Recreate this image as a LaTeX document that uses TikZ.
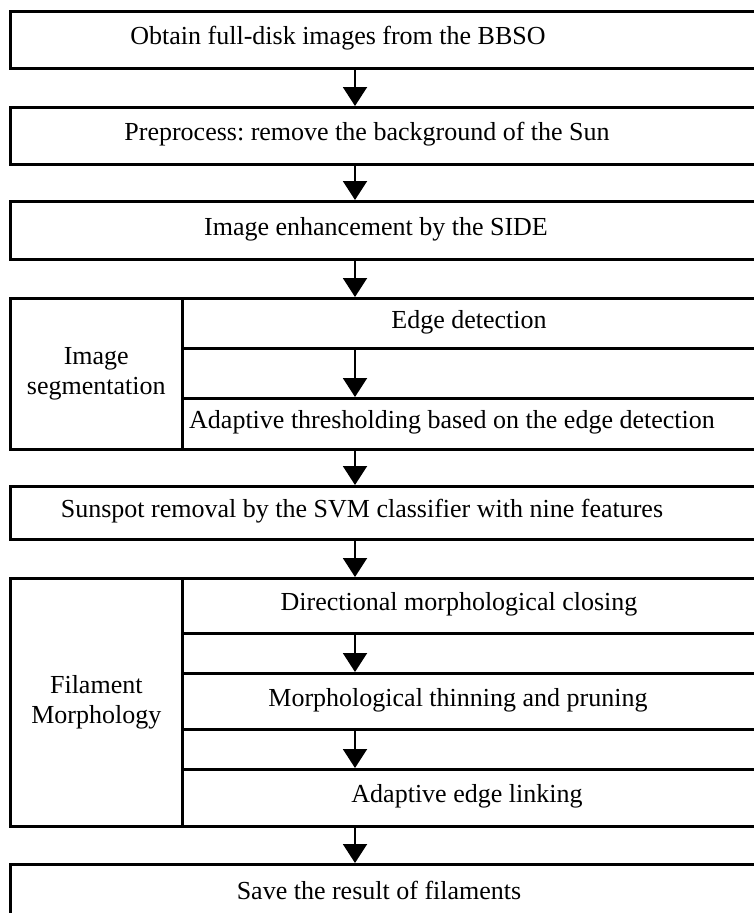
\documentclass[tikz,border=0pt]{standalone}
\usepackage{fontspec}
\setmainfont{Liberation Serif}
\usetikzlibrary{arrows.meta, positioning}
\frenchspacing

\begin{document}
\begin{tikzpicture}[x=1pt, y=-1pt,
  stage/.style={draw, line width=3pt, rectangle, anchor=north west, inner sep=0pt, minimum width=762pt},
  cell/.style={draw, line width=2.6pt, rectangle, anchor=north west, inner sep=0pt,
               font=\fontsize{26}{30}\selectfont, align=center},
  lbl/.style={font=\fontsize{26}{30}\selectfont, inner sep=0pt, text height=18pt, text depth=6pt},
  flow/.style={line width=2pt, -{Triangle[width=24pt,length=19pt]}}]
  \useasboundingbox (0,0) rectangle (754,913);
  \clip (0,0) rectangle (754,913);

  % === single stages ===
  \node[stage, minimum height=57pt] (obtain) at (9,10) {};
  \node[stage, minimum height=57pt] (prep) at (9,106) {};
  \node[stage, minimum height=58pt] (side) at (9,200) {};

  % === image segmentation block ===
  \node[stage, minimum height=151pt] (seg) at (9,297) {};
  \node[cell, minimum width=172pt, minimum height=151pt] (segHead) at (9,297) {Image\\segmentation};
  \node[cell, minimum width=589pt, minimum height=50pt] (edge) at (181,297) {};
  \node[cell, minimum width=589pt, minimum height=51pt] (thresh) at (181,397) {};

  \node[stage, minimum height=53pt] (svm) at (9,485) {};

  % === filament morphology block ===
  \node[stage, minimum height=248pt] (fil) at (9,577) {};
  \node[cell, minimum width=172pt, minimum height=248pt] (filHead) at (9,577) {Filament\\Morphology};
  \node[cell, minimum width=589pt, minimum height=55pt] (closing) at (181,577) {};
  \node[cell, minimum width=589pt, minimum height=56pt] (thinning) at (181,672) {};
  \node[cell, minimum width=589pt, minimum height=57pt] (linking) at (181,768) {};

  \node[stage, minimum height=90pt] (save) at (9,863) {};

  % labels
  \node[lbl] (tObtain) at (338,38.5) {Obtain full-disk images from the BBSO};
  \node[lbl] (tPrep) at (367,134.5) {Preprocess: remove the background of the Sun};
  \node[lbl] (tSide) at (376,229) {Image enhancement by the SIDE};
  \node[lbl] (tEdge) at (469,322) {Edge detection};
  \node[lbl] (tThresh) at (452,422.5) {Adaptive thresholding based on the edge detection};
  \node[lbl] (tSvm) at (362,511.5) {Sunspot removal by the SVM classifier with nine features};
  \node[lbl] (tClose) at (459,604.5) {Directional morphological closing};
  \node[lbl] (tThin) at (458,700) {Morphological thinning and pruning};
  \node[lbl] (tLink) at (467,796.5) {Adaptive edge linking};
  \node[lbl] (tSave) at (379,893) {Save the result of filaments};

  % arrows
  \coordinate (ax) at (355,0);
  \draw[flow] (obtain.south -| ax) -- (prep.north -| ax);
  \draw[flow] (prep.south -| ax) -- (side.north -| ax);
  \draw[flow] (side.south -| ax) -- (seg.north -| ax);
  \draw[flow] (edge.south -| ax) -- (thresh.north -| ax);
  \draw[flow] (seg.south -| ax) -- (svm.north -| ax);
  \draw[flow] (svm.south -| ax) -- (fil.north -| ax);
  \draw[flow] (closing.south -| ax) -- (thinning.north -| ax);
  \draw[flow] (thinning.south -| ax) -- (linking.north -| ax);
  \draw[flow] (fil.south -| ax) -- (save.north -| ax);
\end{tikzpicture}
\end{document}
